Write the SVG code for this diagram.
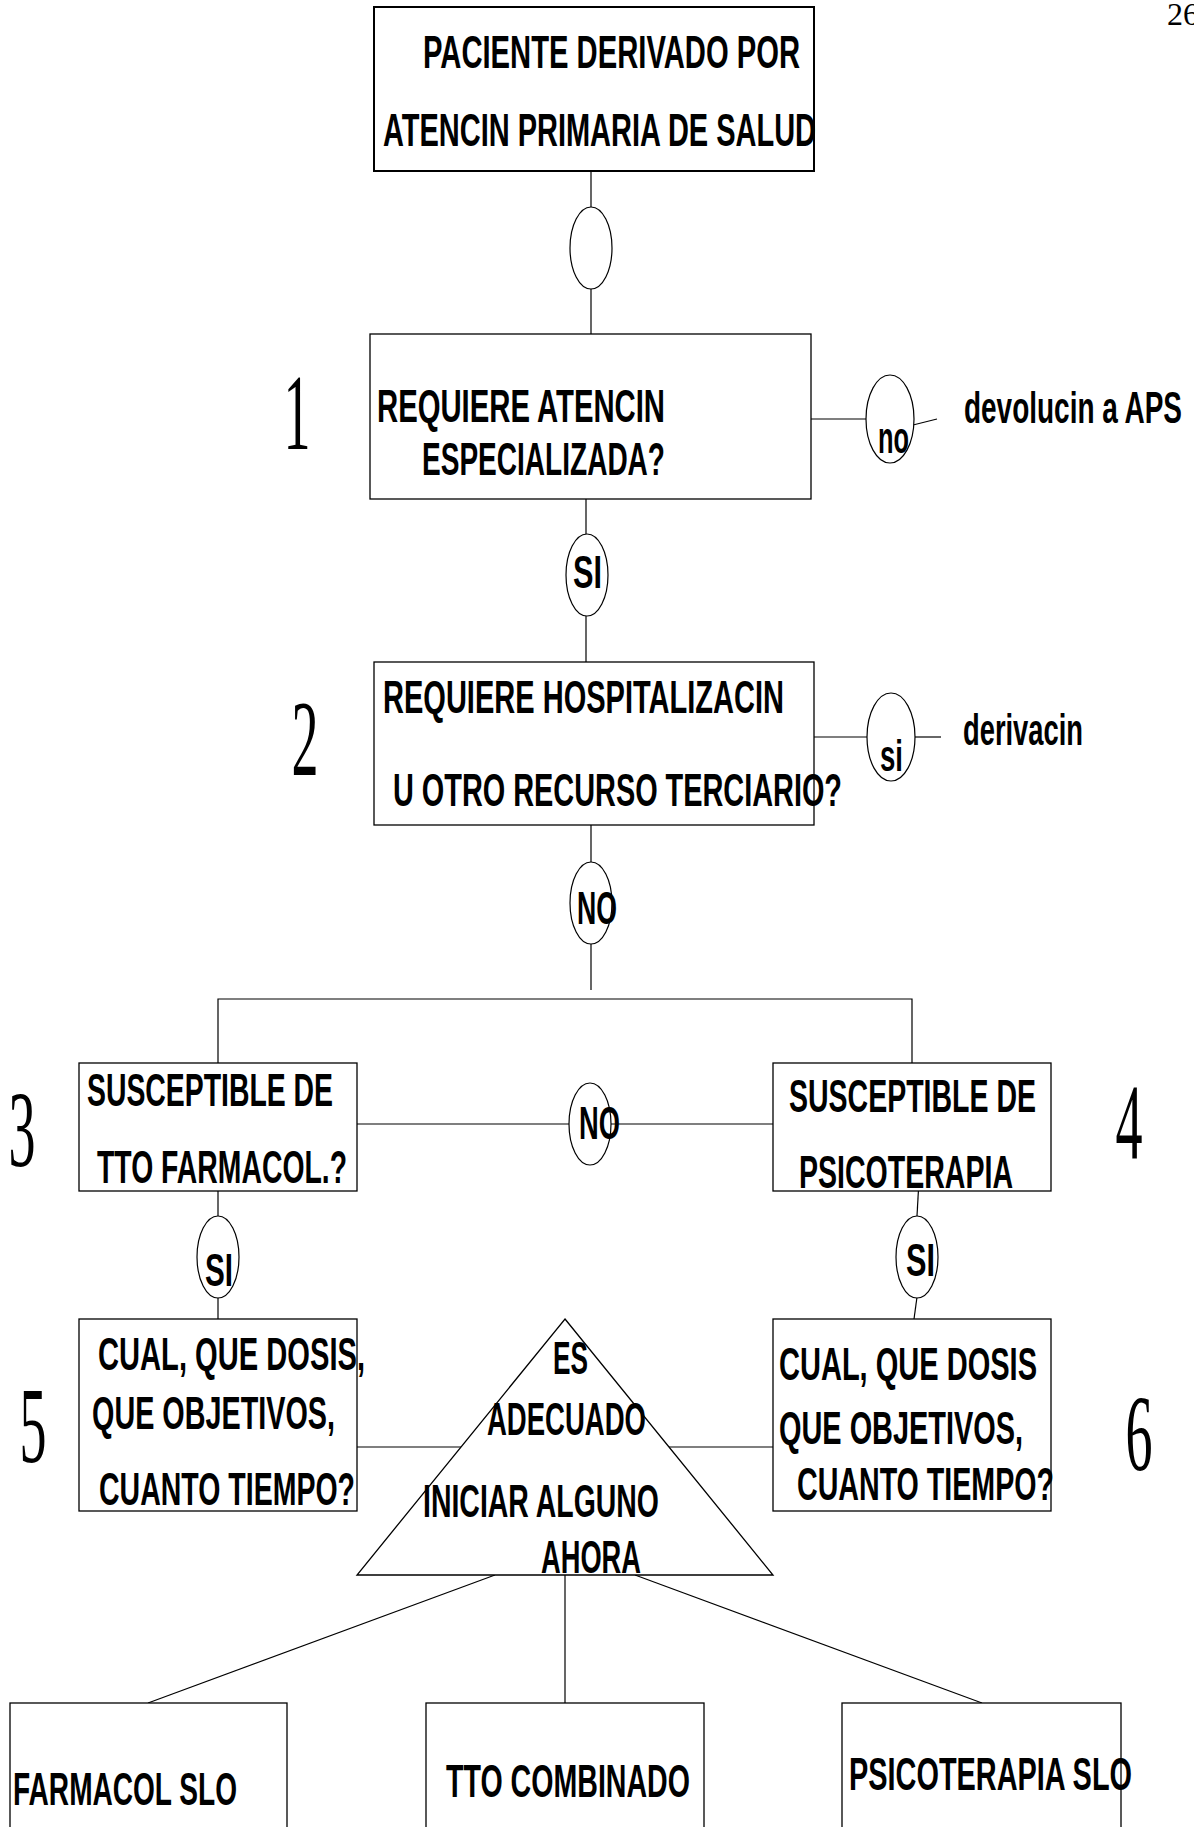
<svg xmlns="http://www.w3.org/2000/svg" width="1194" height="1827" viewBox="0 0 1194 1827">
<style>
  .bg{fill:#ffffff}
  .box{fill:#ffffff;stroke:#000;stroke-width:1.3}
  .boxA{fill:#ffffff;stroke:#000;stroke-width:2}
  .ell{fill:#ffffff;stroke:#000;stroke-width:1.2}
  .ln{stroke:#000;stroke-width:1.2;fill:none}
  .t{font-family:"Liberation Sans",Arial,sans-serif;font-size:46px;font-weight:bold;fill:#000}
  .l{font-family:"Liberation Sans",Arial,sans-serif;font-size:45px;font-weight:bold;fill:#000}
  .d{font-family:"Liberation Serif","Times New Roman",serif;font-size:108px;fill:#000;text-anchor:middle}
  .pg{font-family:"Liberation Serif","Times New Roman",serif;font-size:32px;fill:#000}
</style>
<rect class="bg" x="0" y="0" width="1194" height="1827"/>
<text class="pg" x="1167" y="25">26</text>

<g id="connectors">
  <line class="ln" x1="591" y1="171" x2="591" y2="207"/>
  <line class="ln" x1="591" y1="288" x2="591" y2="334"/>
  <line class="ln" x1="811" y1="419" x2="866" y2="419"/>
  <line class="ln" x1="913" y1="425" x2="937" y2="419"/>
  <line class="ln" x1="586" y1="499" x2="586" y2="534"/>
  <line class="ln" x1="586" y1="616" x2="586" y2="662"/>
  <line class="ln" x1="814" y1="737" x2="867" y2="737"/>
  <line class="ln" x1="915" y1="737" x2="941" y2="737"/>
  <line class="ln" x1="591" y1="825" x2="591" y2="862"/>
  <line class="ln" x1="591" y1="944" x2="591" y2="990"/>
  <polyline class="ln" points="218,1063 218,999 912,999 912,1063"/>
  <line class="ln" x1="357" y1="1124" x2="569" y2="1124"/>
  <line class="ln" x1="611" y1="1124" x2="773" y2="1124"/>
  <line class="ln" x1="218" y1="1191" x2="218" y2="1216"/>
  <line class="ln" x1="218" y1="1297" x2="218" y2="1319"/>
  <line class="ln" x1="919" y1="1180" x2="917" y2="1216"/>
  <line class="ln" x1="917" y1="1297" x2="914" y2="1319"/>
  <line class="ln" x1="357" y1="1447" x2="461" y2="1447"/>
  <line class="ln" x1="669" y1="1447" x2="773" y2="1447"/>
  <line class="ln" x1="495" y1="1575" x2="148" y2="1703"/>
  <line class="ln" x1="565" y1="1575" x2="565" y2="1703"/>
  <line class="ln" x1="635" y1="1575" x2="982" y2="1703"/>
</g>

<g id="node-paciente">
  <rect class="boxA" x="374" y="7" width="440" height="164"/>
  <text class="t" x="423" y="68" textLength="377" lengthAdjust="spacingAndGlyphs">PACIENTE DERIVADO POR</text>
  <text class="t" x="383" y="146" textLength="433" lengthAdjust="spacingAndGlyphs">ATENCIN PRIMARIA DE SALUD</text>
</g>

<g id="conn-ellipse-1"><ellipse class="ell" cx="591" cy="248" rx="21" ry="41"/></g>

<g id="node-1">
  <rect class="box" x="370" y="334" width="441" height="165"/>
  <text class="t" x="377" y="422" textLength="288" lengthAdjust="spacingAndGlyphs">REQUIERE ATENCIN</text>
  <text class="t" x="422" y="475" textLength="243" lengthAdjust="spacingAndGlyphs">ESPECIALIZADA?</text>
  <text class="d" transform="translate(297,449) scale(0.5,1)">1</text>
</g>

<g id="dec-no-1">
  <ellipse class="ell" cx="890" cy="419" rx="24" ry="44"/>
  <text class="l" x="878" y="453" textLength="31" lengthAdjust="spacingAndGlyphs">no</text>
</g>
<g id="out-devolucion">
  <text class="l" x="964" y="423" textLength="218" lengthAdjust="spacingAndGlyphs">devolucin a APS</text>
</g>

<g id="dec-si-1">
  <ellipse class="ell" cx="587" cy="575" rx="21" ry="41"/>
  <text class="t" x="573" y="588" textLength="29" lengthAdjust="spacingAndGlyphs">SI</text>
</g>

<g id="node-2">
  <rect class="box" x="374" y="662" width="440" height="163"/>
  <text class="t" x="383" y="713" textLength="401" lengthAdjust="spacingAndGlyphs">REQUIERE HOSPITALIZACIN</text>
  <text class="t" x="393" y="806" textLength="449" lengthAdjust="spacingAndGlyphs">U OTRO RECURSO TERCIARIO?</text>
  <text class="d" transform="translate(305,775) scale(0.5,1)">2</text>
</g>

<g id="dec-si-2">
  <ellipse class="ell" cx="891" cy="737" rx="24" ry="44"/>
  <text class="l" x="880" y="771" textLength="23" lengthAdjust="spacingAndGlyphs">si</text>
</g>
<g id="out-derivacion">
  <text class="l" x="963" y="745" textLength="120" lengthAdjust="spacingAndGlyphs">derivacin</text>
</g>

<g id="dec-no-2">
  <ellipse class="ell" cx="591" cy="903" rx="21" ry="41"/>
  <text class="t" x="577" y="924" textLength="40" lengthAdjust="spacingAndGlyphs">NO</text>
</g>

<g id="node-3">
  <rect class="box" x="79" y="1063" width="278" height="128"/>
  <text class="t" x="87" y="1106" textLength="246" lengthAdjust="spacingAndGlyphs">SUSCEPTIBLE DE</text>
  <text class="t" x="97" y="1183" textLength="250" lengthAdjust="spacingAndGlyphs">TTO FARMACOL.?</text>
  <text class="d" transform="translate(22,1166) scale(0.5,1)">3</text>
</g>

<g id="node-4">
  <rect class="box" x="773" y="1063" width="278" height="128"/>
  <text class="t" x="789" y="1112" textLength="247" lengthAdjust="spacingAndGlyphs">SUSCEPTIBLE DE</text>
  <text class="t" x="799" y="1188" textLength="214" lengthAdjust="spacingAndGlyphs">PSICOTERAPIA</text>
  <text class="d" transform="translate(1129,1159) scale(0.5,1)">4</text>
</g>

<g id="dec-no-3">
  <ellipse class="ell" cx="590" cy="1124" rx="21" ry="41"/>
  <text class="t" x="579" y="1139" textLength="41" lengthAdjust="spacingAndGlyphs">NO</text>
</g>

<g id="dec-si-3">
  <ellipse class="ell" cx="218" cy="1257" rx="21" ry="41"/>
  <text class="t" x="205" y="1286" textLength="28" lengthAdjust="spacingAndGlyphs">SI</text>
</g>

<g id="dec-si-4">
  <ellipse class="ell" cx="917" cy="1257" rx="21" ry="41"/>
  <text class="t" x="906" y="1276" textLength="29" lengthAdjust="spacingAndGlyphs">SI</text>
</g>

<g id="node-5">
  <rect class="box" x="79" y="1319" width="278" height="192"/>
  <text class="t" x="98" y="1370" textLength="267" lengthAdjust="spacingAndGlyphs">CUAL, QUE DOSIS,</text>
  <text class="t" x="92" y="1429" textLength="243" lengthAdjust="spacingAndGlyphs">QUE OBJETIVOS,</text>
  <text class="t" x="99" y="1505" textLength="256" lengthAdjust="spacingAndGlyphs">CUANTO TIEMPO?</text>
  <text class="d" transform="translate(33,1462) scale(0.5,1)">5</text>
</g>

<g id="node-6">
  <rect class="box" x="773" y="1319" width="278" height="192"/>
  <text class="t" x="779" y="1380" textLength="258" lengthAdjust="spacingAndGlyphs">CUAL, QUE DOSIS</text>
  <text class="t" x="779" y="1444" textLength="244" lengthAdjust="spacingAndGlyphs">QUE OBJETIVOS,</text>
  <text class="t" x="797" y="1500" textLength="257" lengthAdjust="spacingAndGlyphs">CUANTO TIEMPO?</text>
  <text class="d" transform="translate(1139,1470) scale(0.5,1)">6</text>
</g>

<g id="node-triangle">
  <polygon class="box" points="565,1319 773,1575 357,1575"/>
  <text class="t" x="553" y="1374" textLength="35" lengthAdjust="spacingAndGlyphs">ES</text>
  <text class="t" x="487" y="1435" textLength="159" lengthAdjust="spacingAndGlyphs">ADECUADO</text>
  <text class="t" x="423" y="1517" textLength="236" lengthAdjust="spacingAndGlyphs">INICIAR ALGUNO</text>
  <text class="t" x="541" y="1573" textLength="100" lengthAdjust="spacingAndGlyphs">AHORA</text>
</g>

<g id="node-farmacol">
  <rect class="box" x="10" y="1703" width="277" height="140"/>
  <text class="t" x="13" y="1805" textLength="224" lengthAdjust="spacingAndGlyphs">FARMACOL SLO</text>
</g>

<g id="node-combinado">
  <rect class="box" x="426" y="1703" width="278" height="140"/>
  <text class="t" x="446" y="1797" textLength="244" lengthAdjust="spacingAndGlyphs">TTO COMBINADO</text>
</g>

<g id="node-psicoterapia">
  <rect class="box" x="842" y="1703" width="279" height="140"/>
  <text class="t" x="849" y="1790" textLength="283" lengthAdjust="spacingAndGlyphs">PSICOTERAPIA SLO</text>
</g>
</svg>
